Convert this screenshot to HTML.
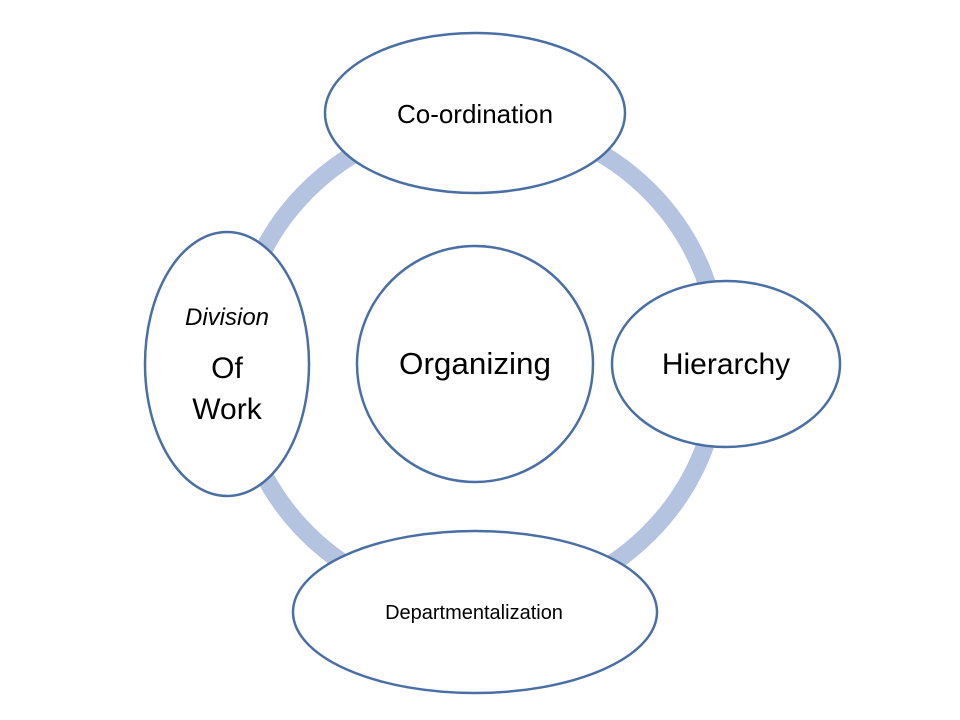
<!DOCTYPE html>
<html><head><style>body{margin:0;background:#fff}svg{display:block}</style></head>
<body>
<svg width="960" height="720" xmlns="http://www.w3.org/2000/svg" font-family="'Liberation Sans', sans-serif" text-anchor="middle">
<circle cx="478" cy="362" r="242" fill="none" stroke="#b4c4e0" stroke-width="18"/>
<g fill="#fff" stroke="#4a6fa5" stroke-width="2.5">
<ellipse cx="475" cy="113" rx="150" ry="80"/>
<ellipse cx="726" cy="364" rx="114" ry="83"/>
<ellipse cx="227" cy="364" rx="82" ry="132"/>
<ellipse cx="475" cy="612" rx="182" ry="81"/>
<circle cx="475" cy="364" r="118"/>
</g>
<g fill="#000">
<text x="475" y="123" font-size="26">Co-ordination</text>
<text x="726" y="374" font-size="30">Hierarchy</text>
<text x="475" y="374" font-size="31" textLength="152" lengthAdjust="spacingAndGlyphs">Organizing</text>
<text x="227" y="325" font-size="24" font-style="italic">Division</text>
<text x="227" y="378" font-size="30">Of</text>
<text x="227" y="419" font-size="30">Work</text>
<text x="474" y="619" font-size="20">Departmentalization</text>
</g>
</svg>
</body></html>
